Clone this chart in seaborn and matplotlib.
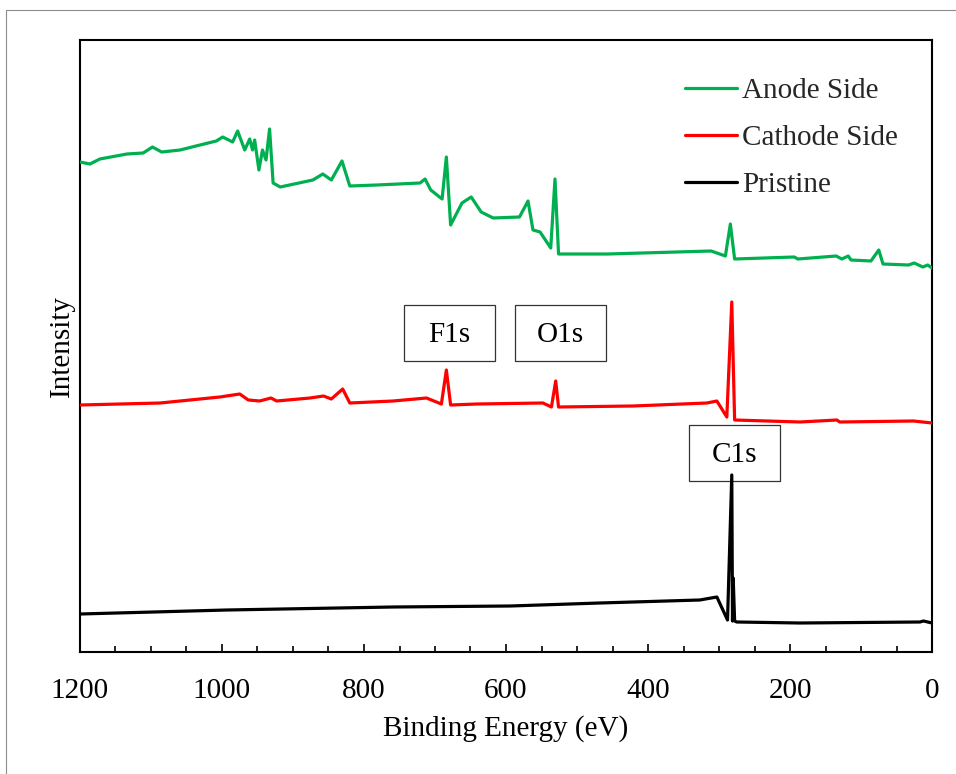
import numpy as np
import pandas as pd
import matplotlib
matplotlib.use("Agg")
import matplotlib.pyplot as plt
from matplotlib.patches import Rectangle
from matplotlib.ticker import MultipleLocator
import seaborn as sns

# ---------------- data (binding energy in eV, intensity in arbitrary units) ----------------
anode_be = [1200, 1186, 1172, 1134, 1111, 1098, 1085, 1059, 1031, 1008, 999, 985, 978, 968, 961,
            957, 954, 948, 943, 938, 933, 928, 918, 872, 858, 846, 831, 820, 782, 721, 714, 706,
            690, 684, 678, 662, 649, 635, 618, 581, 569, 562, 552, 537, 531, 526, 457, 311, 291,
            284, 278, 194, 189, 135, 127, 118, 114, 86, 75, 69, 33, 25, 13, 6, 0]
anode_int = [490, 488, 493, 498, 499, 505, 500, 502, 507, 511, 515, 510, 521, 502, 513,
             502, 512, 482, 502, 492, 523, 469, 465, 472, 478, 472, 491, 466, 467, 469, 473, 462,
             453, 495, 427, 449, 455, 440, 434, 435, 451, 422, 420, 404, 473, 398, 398, 401, 396,
             428, 393, 395, 393, 396, 393, 396, 392, 391, 402, 388, 387, 389, 385, 387, 384]

cathode_be = [1200, 1087, 1003, 975, 963, 947, 931, 923, 876, 857, 846, 830, 820, 759, 712, 691,
              684, 678, 641, 548, 536, 530, 526, 421, 317, 303, 289, 282, 278, 186, 134, 130, 26, 0]
cathode_int = [247, 249, 255, 258, 252, 251, 254, 251, 254, 256, 253, 263, 249, 251, 254, 248,
               282, 247, 248, 249, 245, 271, 245, 246, 249, 251, 235, 350, 232, 230, 232, 230, 231, 229]

pristine_be = [1200, 993, 759, 594, 468, 327, 303, 288, 282, 281, 280, 278, 275, 186, 17, 12, 0]
pristine_int = [38, 42, 45, 46, 49, 52, 55, 32, 177, 31, 74, 31, 30, 29, 30, 31, 29]

series_names = ["Anode Side", "Cathode Side", "Pristine"]
series_colors = ["#00B050", "#FF0000", "#000000"]

peak_labels = ["F1s", "O1s", "C1s"]
peak_label_be = [680, 523, 278]
peak_label_int = [319, 319, 199]

x_ticks = [1200, 1000, 800, 600, 400, 200, 0]

df = pd.concat([
    pd.DataFrame({"Binding Energy": anode_be, "Intensity": anode_int, "Sample": series_names[0]}),
    pd.DataFrame({"Binding Energy": cathode_be, "Intensity": cathode_int, "Sample": series_names[1]}),
    pd.DataFrame({"Binding Energy": pristine_be, "Intensity": pristine_int, "Sample": series_names[2]}),
], ignore_index=True)

# ---------------- style ----------------
sns.set_style("ticks")
plt.rcParams["font.family"] = ["Liberation Serif", "DejaVu Serif"]
plt.rcParams["axes.linewidth"] = 1.5

W, H = 956, 774
fig = plt.figure(figsize=(W / 100, H / 100), dpi=100)
ax = fig.add_axes([80 / W, 1 - 652 / H, (932 - 80) / W, (652 - 40) / H])

# outer thin grey frame (cropped picture border)
fig.patches.append(Rectangle((6 / W, -0.05), 1.2, 1.05 - 10 / H, transform=fig.transFigure,
                             fill=False, edgecolor="#8c8c8c", linewidth=0.8))

sns.lineplot(data=df, x="Binding Energy", y="Intensity", hue="Sample",
             hue_order=series_names, palette=dict(zip(series_names, series_colors)),
             sort=False, estimator=None, linewidth=2.3, ax=ax, zorder=3)

ax.set_xlim(1200, 0)
ax.set_ylim(0, 612)
ax.set_xticks(x_ticks)
ax.set_xticklabels([str(t) for t in x_ticks])
ax.xaxis.set_minor_locator(MultipleLocator(50))
ax.set_yticks([])
ax.tick_params(axis="x", which="major", direction="in", length=6, width=1.2,
               labelsize=21, pad=19, color="black", labelcolor="black")
ax.tick_params(axis="x", which="minor", direction="in", length=4.2, width=1.2, color="black")
for s in ax.spines.values():
    s.set_visible(True)
    s.set_color("black")
    s.set_linewidth(1.5)

ax.set_xlabel("Binding Energy (eV)", fontsize=21, labelpad=7.5, color="black")
ax.set_ylabel("Intensity", fontsize=21, labelpad=4, color="black")

# peak labels in boxes (box size in axes fraction)
box_w, box_h = 91 / 852, 56 / 612
for lab, bx, by in zip(peak_labels, peak_label_be, peak_label_int):
    cx, cy = ax.transLimits.transform((bx, by))
    ax.add_patch(Rectangle((cx - box_w / 2, cy - box_h / 2), box_w, box_h, transform=ax.transAxes,
                           fill=False, edgecolor="#333333", linewidth=0.9, zorder=2))
    ax.text(cx, cy - 0.004, lab, transform=ax.transAxes, ha="center", va="center",
            fontsize=21, color="black", zorder=2)

leg = ax.legend(loc="upper left", bbox_to_anchor=(0.710, 0.938), frameon=False, fontsize=21,
                handlelength=1.8, handletextpad=0.17, labelspacing=0.7, borderpad=0,
                borderaxespad=0)
for line in leg.get_lines():
    line.set_linewidth(2.3)

fig.savefig("out.png", dpi=100)
